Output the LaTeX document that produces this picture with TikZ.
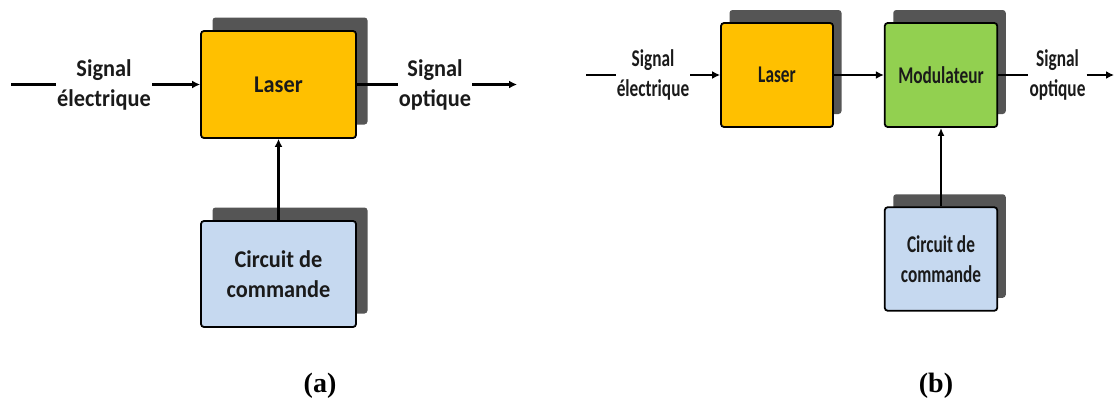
\documentclass[tikz,border=0pt]{standalone}
\usepackage{fontspec}
\setmainfont{Carlito}
\newfontfamily\wideA[FakeStretch=0.93]{Carlito}
\newfontfamily\condfont[FakeStretch=0.72]{Carlito}
\newfontfamily\capfont{Liberation Serif}
\usetikzlibrary{arrows.meta,shadows}
\definecolor{laserfill}{HTML}{FFC000}
\definecolor{modfill}{HTML}{92D050}
\definecolor{circfill}{HTML}{C6D9F0}
\definecolor{shadowgray}{HTML}{555555}
\definecolor{textdark}{HTML}{1A1A1A}
\tikzset{
  blockbox/.style={draw=black, line width=1.8pt, rounded corners=3pt, inner sep=0pt, align=center, text=textdark},
  shadowA/.style={drop shadow={shadow xshift=11.5pt, shadow yshift=13.5pt, opacity=1, fill=shadowgray}},
  shadowB/.style={drop shadow={shadow xshift=8.5pt, shadow yshift=13pt, opacity=1, fill=shadowgray}},
  fontA/.style={font=\wideA\bfseries\fontsize{24}{30}\selectfont},
  fontB/.style={font=\condfont\bfseries\fontsize{24}{29.5}\selectfont},
  lbl/.style={align=center, inner sep=1pt, text=textdark},
  conn/.style={line width=2.4pt},
  arr/.style={line width=2.4pt, -{Latex[length=8pt,width=8pt]}},
  varrA/.style={line width=2.4pt, -{Latex[length=8pt,width=8pt]}},
  varrB/.style={line width=1.8pt, -{Latex[length=8pt,width=7pt]}},
  capt/.style={font=\capfont\bfseries\fontsize{28}{30}\selectfont}
}
\begin{document}
\begin{tikzpicture}[x=1pt,y=-1pt]
\useasboundingbox (0,0) rectangle (1114,399);
% ---------- (a) ----------
\node[blockbox, shadowA, fontA, fill=laserfill, minimum width=155pt, minimum height=107pt] (laserA) at (278.5,84.5) {Laser};
\node[blockbox, shadowA, fontA, fill=circfill, minimum width=155pt, minimum height=106pt] (circA) at (278.5,274) {Circuit de\\commande};
\node[lbl, fontA] (inA) at (104,84.5) {Signal\\électrique};
\node[lbl, fontA] (outA) at (435,84.5) {Signal\\optique};
\coordinate (startA) at (11,84.5);
\coordinate (endA) at (517,84.5);
\draw[conn] (startA) -- (inA.west |- startA);
\draw[arr] (inA.east |- laserA.west) -- (laserA.west);
\draw[conn] (laserA.east) -- (outA.west |- laserA.east);
\draw[arr] (outA.east |- endA) -- (endA);
\draw[varrA] (circA.north) -- (laserA.south);
\node[capt] (capA) at (320,386) {(a)};
% ---------- (b) ----------
\node[blockbox, shadowB, fontB, fill=laserfill, minimum width=112pt, minimum height=104pt] (laserB) at (777,75) {Laser};
\node[blockbox, shadowB, fontB, fill=modfill, minimum width=112.5pt, minimum height=104pt] (modB) at (941,75) {Modulateur};
\node[blockbox, shadowB, fontB, fill=circfill, minimum width=112.5pt, minimum height=103.5pt] (circB) at (941,259) {Circuit de\\commande};
\node[lbl, fontB] (inB) at (653,75) {Signal\\électrique};
\node[lbl, fontB] (outB) at (1057.5,75) {Signal\\optique};
\coordinate (startB) at (586,75);
\coordinate (endB) at (1114,75);
\draw[conn] (startB) -- (inB.west |- startB);
\draw[arr] (inB.east |- laserB.west) -- (laserB.west);
\draw[arr] (laserB.east) -- (modB.west);
\draw[conn] (modB.east) -- (outB.west |- modB.east);
\draw[arr] (outB.east |- endB) -- (endB);
\draw[varrB] (circB.north) -- (modB.south);
\node[capt] (capB) at (936,386) {(b)};
\end{tikzpicture}
\end{document}
